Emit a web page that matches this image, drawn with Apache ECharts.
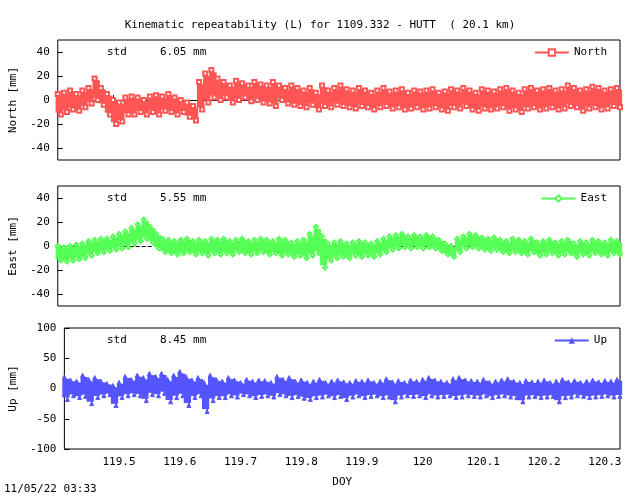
<!DOCTYPE html>
<html><head><meta charset="utf-8">
<script src="https://cdn.jsdelivr.net/npm/echarts@6/dist/echarts.min.js"></script>
<style>html,body{margin:0;background:#fff}#c{width:640px;height:496px}</style>
</head><body><div id="c"></div>
<script>
// DOY grid: 119.41 + 0.01*i, each step has a high and a low reading
const doyStart = 119.41;
const northHi = [5,6,8,5, 8,10,18,10, 5,0,-2,2, 3,2,0,3,4,3,5,2, 0,-2,-5, 15,22,25,
  18,15,12,16,14,12,15,13,12, 15,12,10,12,10, 8,10,6,12,8,10,12,9,8,10,
  8,6,8,10,7,8,9,6,8,7, 8,9,6,7,9,8,10,8,6,9, 8,7,9,10,8,6,9,10,8,9,
  10,8,9,12,10,8,9,11,10,8,9,10];
const northLo = [-12,-10,-8,-9, -6,-3,0,-4, -12,-20,-18,-12, -12,-10,-12,-10,-12,-9,-10,-12, -10,-14,-17, -8,-2,2,
  0,2,-2,0,2,-1,0,-2,-3, -5,0,-3,-4,-5, -6,-4,-8,-5,-6,-4,-5,-6,-7,-5,
  -6,-8,-6,-5,-7,-6,-8,-7,-6,-8, -7,-6,-8,-9,-6,-7,-5,-8,-9,-7, -8,-7,-6,-9,-8,-10,-7,-6,-8,-7,
  -6,-8,-7,-5,-6,-9,-7,-6,-8,-7,-5,-6];
const eastHi = [0,-1,0,1, 2,4,5,6, 6,8,10,12, 15,18,22,16, 10,6,5,4, 5,6,4, 5,4,6,
  5,6,4,5,6,4,5,6,5, 4,6,5,3,4, 5,10,16,8,2,3,4,2,3,4,
  3,2,4,6,8,9,10,8,9,8, 9,8,5,2,0,6,8,10,9,7, 6,7,5,4,6,5,4,6,3,4,
  5,3,4,5,2,4,3,5,4,3,5,4];
const eastLo = [-12,-13,-12,-11, -10,-8,-6,-5, -4,-3,-2,-1, 2,4,6,3, -2,-5,-6,-7, -6,-5,-7, -6,-8,-6,
  -7,-6,-7,-5,-6,-7,-6,-5,-7, -6,-8,-7,-9,-8, -10,-8,-6,-18,-12,-10,-9,-10,-8,-9,
  -8,-9,-7,-5,-3,-2,-1,-2,-1,-2, -1,-2,-4,-7,-9,-5,-2,-1,-2,-3, -4,-3,-5,-6,-5,-6,-7,-5,-8,-7,
  -6,-8,-7,-6,-9,-7,-8,-6,-7,-8,-6,-7];
const upHi = [19,14,12,22, 15,18,12,8, 5,10,20,15, 22,18,25,20, 25,15,22,28, 20,14,18, 10,22,15,
  12,18,14,10,15,12,14,13,10, 20,15,18,12,14, 10,12,15,10,12,14,11,10,13,12,
  14,10,12,16,11,13,10,14,12,15, 18,14,12,10,16,18,14,13,12,15, 10,12,14,16,12,10,13,11,12,14,
  10,12,15,11,13,10,12,14,11,13,12,15];
const upLo = [-18,-12,-15,-13, -25,-15,-12,-10, -28,-15,-12,-10, -12,-20,-10,-12, -8,-22,-15,-12, -28,-15,-12, -38,-20,-15,
  -15,-12,-14,-10,-12,-15,-13,-12,-14, -10,-12,-15,-13,-16, -18,-15,-14,-12,-15,-13,-18,-14,-12,-15,
  -13,-12,-15,-14,-22,-14,-12,-13,-12,-15, -12,-14,-13,-12,-15,-14,-12,-13,-14,-12, -15,-13,-12,-14,-15,-22,-14,-13,-15,-14,
  -13,-22,-15,-14,-12,-13,-15,-14,-13,-12,-14,-13];
const xTicks = [119.5,119.6,119.7,119.8,119.9,120,120.1,120.2,120.3];
const stdText = ['std     6.05 mm', 'std     5.55 mm', 'std     8.45 mm'];

const font = 'DejaVu Sans Mono';
function zigzag(hi, lo) {
  const out = [];
  hi.forEach((h, i) => {
    const x = doyStart + 0.01 * i;
    out.push([x, h], [x + 0.005, lo[i]]);
  });
  return out;
}
// x, high, low per step for the solid core of the scatter cloud
function bandData(hi, lo) {
  return hi.map((h, i) => [doyStart + 0.01 * i + 0.0025, h, lo[i]]);
}
const panels = [
  {name: 'North', hi: northHi, lo: northLo, color: '#ff5555', sym: 'emptyRect', left: 49, top: 40, h: 120, y: [-50, 50], yt: [-40,-20,0,20,40], yl: 'North [mm]'},
  {name: 'East', hi: eastHi, lo: eastLo, color: '#55ff55', sym: 'emptyDiamond', left: 49, top: 186, h: 120, y: [-50, 50], yt: [-40,-20,0,20,40], yl: 'East [mm]'},
  {name: 'Up', hi: upHi, lo: upLo, color: '#5555ff', sym: 'triangle', left: 56, top: 328, h: 121, y: [-100, 100], yt: [-100,-50,0,50,100], yl: 'Up [mm]'}
];
const txt = {fontFamily: font, fontSize: 11, color: '#000'};
const series = [];
panels.forEach((p, i) => {
  series.push({name: p.name, type: 'line', xAxisIndex: i, yAxisIndex: i,
    data: zigzag(p.hi, p.lo), symbol: p.sym, symbolSize: 4, showSymbol: true,
    lineStyle: {color: p.color, width: 1}, itemStyle: {color: p.color, borderColor: p.color},
    z: 3,
    markLine: {silent: true, symbol: 'none', label: {show: false}, z: 1,
      lineStyle: {color: '#000', type: i === 1 ? 'dashed' : 'solid', width: 1}, data: [{yAxis: 0}]}});
  series.push({type: 'custom', xAxisIndex: i, yAxisIndex: i, data: bandData(p.hi, p.lo), silent: true, z: 2,
    renderItem: (params, api) => {
      const x = api.value(0), h = api.value(1), l = api.value(2), s = h - l;
      const a = api.coord([x - 0.006, h - s * 0.08]);
      const b = api.coord([x + 0.006, l + s * 0.08]);
      return {type: 'rect', shape: {x: a[0], y: a[1], width: b[0] - a[0], height: b[1] - a[1]},
        style: {fill: p.color}};
    }});
});
const chart = echarts.init(document.getElementById('c'));
chart.setOption({
  animation: false,
  title: {text: 'Kinematic repeatability (L) for 1109.332 - HUTT  ( 20.1 km)', left: 'center', top: 15,
    textStyle: Object.assign({}, txt, {fontWeight: 'normal'})},
  grid: panels.map(p => ({left: p.left, right: 20, top: p.top, height: p.h, show: true, borderColor: '#000', borderWidth: 1})),
  legend: panels.map((p, i) => ({data: [p.name], right: 28, top: p.top + 2, itemWidth: 34, itemHeight: 8,
    align: 'left', textStyle: txt})),
  xAxis: panels.map((p, i) => ({type: 'value', gridIndex: i, min: 119.41, max: 120.325,
    name: i === 2 ? 'DOY' : '', nameLocation: 'middle', nameGap: 28, nameTextStyle: txt,
    axisLine: {show: false}, splitLine: {show: false},
    axisTick: {inside: true, length: 5, customValues: xTicks, lineStyle: {color: '#000'}},
    axisLabel: {show: i === 2, customValues: xTicks, formatter: v => String(+v.toFixed(1)), ...txt}})),
  yAxis: panels.map((p, i) => ({type: 'value', gridIndex: i, min: p.y[0], max: p.y[1],
    name: p.yl, nameLocation: 'middle', nameGap: i === 2 ? 36 : 29, nameTextStyle: txt,
    axisLine: {show: false}, splitLine: {show: false},
    axisTick: {inside: true, length: 5, customValues: p.yt, lineStyle: {color: '#000'}},
    axisLabel: {customValues: p.yt, ...txt}})),
  graphic: panels.map((p, i) => ({type: 'text', left: 107, top: p.top + 7,
    style: {text: stdText[i], font: '11px "DejaVu Sans Mono"', fill: '#000'}})).concat([
    {type: 'text', left: 4, top: 484, style: {text: '11/05/22 03:33', font: '11px "DejaVu Sans Mono"', fill: '#000'}}]),
  series: series
});
</script>
</body></html>
